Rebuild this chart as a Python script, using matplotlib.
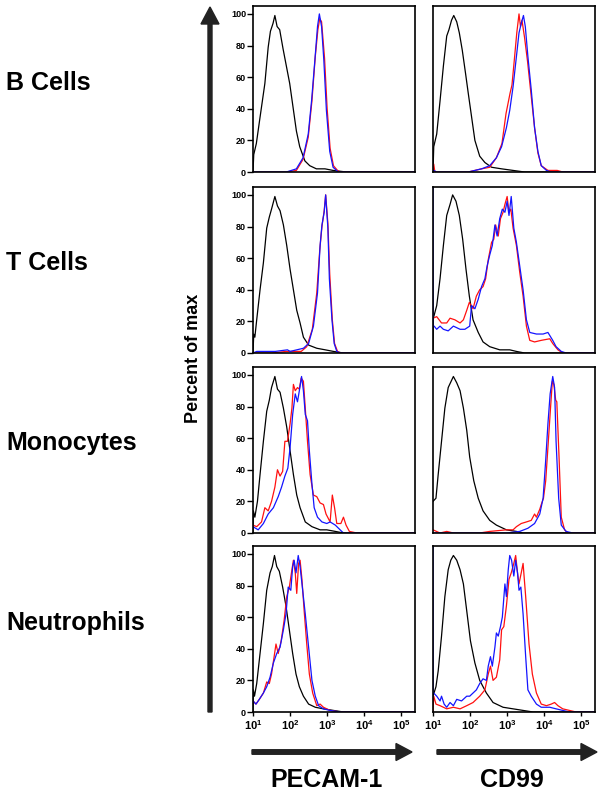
import numpy as np
import matplotlib
matplotlib.use("Agg")
import matplotlib.pyplot as plt
from matplotlib.patches import FancyArrow
from matplotlib.transforms import IdentityTransform

plt.rcParams['font.family'] = ['Liberation Sans', 'DejaVu Sans']
plt.rcParams['mathtext.fontset'] = 'custom'
plt.rcParams['mathtext.rm'] = 'Liberation Sans'
plt.rcParams['mathtext.bf'] = 'Liberation Sans:bold'

# ---------------- data (x = log10 fluorescence, y = percent of max) ----------------
row_labels = ["B Cells", "T Cells", "Monocytes", "Neutrophils"]
col_labels = ["PECAM-1", "CD99"]
y_ticks = [0, 20, 40, 60, 80, 100]
x_ticks = [1, 2, 3, 4, 5]
x_tick_labels = [r"$\mathbf{10^{1}}$", r"$\mathbf{10^{2}}$", r"$\mathbf{10^{3}}$",
                 r"$\mathbf{10^{4}}$", r"$\mathbf{10^{5}}$"]

# B cells, PECAM-1
b_pecam_iso_x = [1.0, 1.02, 1.09, 1.18, 1.32, 1.41, 1.47, 1.54, 1.59, 1.65, 1.72, 1.81, 1.90, 1.99, 2.08, 2.17, 2.26, 2.40, 2.53, 2.71, 2.94, 3.16, 3.52, 5.5]
b_pecam_iso_y = [0, 11, 18, 33, 56, 79, 89, 94, 99, 92, 90, 78, 67, 56, 41, 26, 16, 7, 4, 2, 2, 1, 0, 0]
b_pecam_red_x = [1.0, 1.9, 2.17, 2.35, 2.49, 2.59, 2.68, 2.75, 2.80, 2.85, 2.93, 3.00, 3.08, 3.17, 3.28, 3.35, 5.5]
b_pecam_red_y = [0, 0, 1, 8, 22, 45, 73, 90, 97, 95, 72, 40, 15, 4, 1, 0, 0]
b_pecam_blue_x = [1.0, 1.9, 2.17, 2.35, 2.49, 2.58, 2.67, 2.74, 2.79, 2.85, 2.91, 2.98, 3.07, 3.16, 3.30, 5.5]
b_pecam_blue_y = [0, 0, 2, 9, 24, 45, 71, 92, 100, 92, 71, 39, 13, 3, 0, 0]

# B cells, CD99
b_cd99_iso_x = [1.0, 1.02, 1.10, 1.19, 1.28, 1.37, 1.43, 1.50, 1.56, 1.64, 1.71, 1.79, 1.88, 1.95, 2.04, 2.13, 2.26, 2.40, 2.58, 2.85, 3.16, 3.47, 5.5]
b_cd99_iso_y = [0, 16, 24, 45, 67, 86, 90, 96, 99, 95, 88, 77, 62, 50, 35, 20, 10, 6, 3, 2, 1, 0, 0]
b_cd99_red_x = [1.0, 1.02, 1.05, 1.95, 2.31, 2.53, 2.71, 2.86, 2.97, 3.08, 3.13, 3.19, 3.26, 3.32, 3.36, 3.40, 3.47, 3.55, 3.64, 3.74, 3.83, 3.92, 4.10, 4.35, 4.5, 5.5]
b_cd99_red_y = [0, 5, 0, 0, 2, 3, 9, 18, 37, 50, 55, 70, 88, 100, 92, 96, 85, 70, 50, 28, 12, 4, 1, 1, 0, 0]
b_cd99_blue_x = [1.0, 1.02, 1.10, 1.95, 2.31, 2.53, 2.71, 2.85, 2.98, 3.07, 3.16, 3.25, 3.32, 3.38, 3.44, 3.49, 3.56, 3.65, 3.74, 3.83, 3.92, 4.06, 4.19, 5.5]
b_cd99_blue_y = [1, 1, 0, 0, 2, 4, 9, 16, 28, 39, 54, 73, 88, 94, 99, 92, 73, 52, 28, 13, 4, 1, 0, 0]

# T cells, PECAM-1
t_pecam_iso_x = [1.0, 1.02, 1.05, 1.10, 1.19, 1.28, 1.37, 1.44, 1.50, 1.59, 1.66, 1.73, 1.82, 1.91, 2.00, 2.09, 2.18, 2.27, 2.36, 2.50, 2.72, 2.95, 3.17, 3.44, 5.5]
t_pecam_iso_y = [0, 12, 10, 21, 40, 57, 79, 86, 91, 99, 93, 90, 81, 68, 53, 40, 27, 19, 10, 5, 3, 2, 1, 0, 0]
t_pecam_red_x = [1.0, 1.5, 1.9, 2.0, 2.3, 2.45, 2.6, 2.72, 2.8, 2.86, 2.92, 2.96, 3.02, 3.07, 3.14, 3.2, 3.28, 3.36, 5.5]
t_pecam_red_y = [0, 0, 1, 1, 1, 4, 15, 38, 65, 80, 90, 100, 82, 50, 21, 6, 1, 0, 0]
t_pecam_blue_x = [1.0, 1.1, 1.6, 1.93, 2.0, 2.36, 2.50, 2.63, 2.74, 2.81, 2.86, 2.92, 2.96, 3.02, 3.06, 3.13, 3.19, 3.26, 3.35, 5.5]
t_pecam_blue_y = [0, 1, 1, 2, 1, 3, 6, 17, 38, 68, 81, 89, 100, 79, 47, 21, 6, 1, 0, 0]

# T cells, CD99
t_cd99_iso_x = [1.0, 1.01, 1.10, 1.19, 1.28, 1.37, 1.46, 1.53, 1.62, 1.71, 1.80, 1.89, 1.98, 2.08, 2.22, 2.35, 2.53, 2.80, 3.07, 3.25, 3.47, 5.5]
t_cd99_iso_y = [0, 22, 30, 47, 68, 87, 94, 100, 96, 87, 72, 53, 36, 21, 13, 7, 4, 2, 2, 1, 0, 0]
t_cd99_red_x = [1.0, 1.10, 1.23, 1.37, 1.46, 1.59, 1.73, 1.82, 1.91, 1.98, 2.08, 2.17, 2.26, 2.35, 2.42, 2.49, 2.58, 2.64, 2.69, 2.76, 2.82, 2.89, 2.94, 3.00, 3.05, 3.10, 3.16, 3.25, 3.34, 3.43, 3.52, 3.61, 3.74, 3.92, 4.15, 4.23, 4.37, 4.50, 5.5]
t_cd99_red_y = [22, 23, 19, 19, 22, 21, 19, 21, 27, 32, 28, 36, 40, 42, 47, 59, 70, 72, 81, 74, 85, 89, 94, 99, 89, 91, 79, 68, 51, 36, 17, 8, 7, 8, 9, 6, 2, 0, 0]
t_cd99_blue_x = [1.0, 1.005, 1.03, 1.10, 1.19, 1.28, 1.41, 1.55, 1.73, 1.86, 1.99, 2.04, 2.13, 2.22, 2.31, 2.40, 2.46, 2.53, 2.60, 2.67, 2.73, 2.80, 2.87, 2.94, 3.00, 3.05, 3.11, 3.18, 3.25, 3.34, 3.43, 3.52, 3.61, 3.79, 3.97, 4.10, 4.23, 4.32, 4.46, 4.59, 5.5]
t_cd99_blue_y = [110, 17, 17, 15, 17, 15, 14, 17, 15, 15, 17, 30, 28, 34, 42, 47, 55, 62, 68, 81, 74, 85, 91, 89, 96, 87, 99, 79, 70, 55, 40, 21, 13, 12, 12, 13, 8, 4, 1, 0, 0]

# Monocytes, PECAM-1
m_pecam_iso_x = [1.0, 1.01, 1.05, 1.12, 1.19, 1.28, 1.37, 1.44, 1.50, 1.59, 1.66, 1.73, 1.82, 1.91, 2.00, 2.09, 2.18, 2.27, 2.41, 2.59, 2.81, 2.99, 3.22, 3.44, 5.5]
m_pecam_iso_y = [0, 14, 10, 20, 37, 58, 77, 84, 92, 99, 91, 89, 79, 67, 52, 37, 24, 16, 7, 4, 2, 2, 1, 0, 0]
m_pecam_red_x = [1.0, 1.10, 1.23, 1.32, 1.41, 1.50, 1.59, 1.66, 1.73, 1.80, 1.86, 1.93, 2.00, 2.05, 2.09, 2.14, 2.20, 2.25, 2.30, 2.36, 2.41, 2.47, 2.54, 2.63, 2.72, 2.81, 2.90, 2.97, 3.08, 3.14, 3.20, 3.26, 3.37, 3.44, 3.51, 3.60, 3.80, 5.5]
m_pecam_red_y = [5, 4, 7, 16, 14, 20, 29, 40, 36, 39, 58, 58, 69, 79, 94, 90, 92, 91, 98, 96, 79, 58, 37, 24, 23, 19, 18, 12, 7, 24, 16, 6, 6, 10, 5, 1, 0, 0]
m_pecam_blue_x = [1.0, 1.14, 1.28, 1.41, 1.55, 1.68, 1.77, 1.86, 1.94, 2.00, 2.07, 2.14, 2.20, 2.25, 2.31, 2.36, 2.41, 2.47, 2.52, 2.59, 2.65, 2.74, 2.86, 2.99, 3.08, 3.22, 3.35, 3.44, 5.5]
m_pecam_blue_y = [4, 2, 6, 12, 16, 23, 29, 36, 41, 54, 75, 88, 83, 90, 99, 90, 75, 71, 52, 31, 16, 10, 7, 6, 7, 5, 2, 0, 0]

# Monocytes, CD99
m_cd99_iso_x = [1.0, 1.08, 1.14, 1.23, 1.32, 1.41, 1.47, 1.55, 1.64, 1.73, 1.82, 1.91, 1.99, 2.10, 2.22, 2.35, 2.53, 2.71, 2.98, 3.25, 3.43, 5.5]
m_cd99_iso_y = [20, 22, 37, 58, 79, 92, 95, 99, 95, 90, 79, 65, 48, 33, 22, 14, 8, 5, 2, 1, 0, 0]
m_cd99_red_x = [1.0, 1.19, 1.37, 1.55, 2.26, 2.53, 2.98, 3.16, 3.25, 3.38, 3.52, 3.65, 3.74, 3.79, 3.88, 3.92, 3.98, 4.04, 4.10, 4.17, 4.22, 4.26, 4.31, 4.34, 4.40, 4.46, 4.55, 4.64, 5.5]
m_cd99_red_y = [2, 0, 1, 0, 0, 1, 2, 2, 4, 6, 7, 8, 12, 10, 15, 18, 22, 33, 54, 79, 96, 94, 84, 83, 48, 10, 2, 0, 0]
m_cd99_blue_x = [1.0, 2.98, 3.34, 3.56, 3.74, 3.88, 3.97, 4.04, 4.10, 4.16, 4.23, 4.28, 4.32, 4.39, 4.46, 4.59, 4.77, 5.5]
m_cd99_blue_y = [0, 0, 1, 3, 6, 12, 22, 46, 69, 88, 99, 92, 58, 22, 5, 1, 0, 0]

# Neutrophils, PECAM-1
n_pecam_iso_x = [1.0, 1.01, 1.04, 1.10, 1.19, 1.28, 1.37, 1.46, 1.52, 1.58, 1.64, 1.71, 1.80, 1.89, 1.98, 2.07, 2.16, 2.25, 2.36, 2.50, 2.68, 2.90, 3.17, 3.44, 5.5]
n_pecam_iso_y = [0, 14, 10, 18, 37, 56, 77, 88, 92, 99, 92, 89, 79, 67, 52, 37, 24, 16, 10, 5, 3, 2, 1, 0, 0]
n_pecam_red_x = [1.0, 1.08, 1.17, 1.28, 1.37, 1.44, 1.50, 1.57, 1.62, 1.68, 1.76, 1.84, 1.91, 1.98, 2.05, 2.09, 2.14, 2.18, 2.23, 2.27, 2.32, 2.38, 2.45, 2.52, 2.61, 2.72, 2.81, 2.90, 3.08, 3.35, 5.5]
n_pecam_red_y = [7, 5, 8, 12, 19, 18, 24, 35, 43, 37, 45, 58, 73, 79, 90, 96, 88, 75, 94, 96, 84, 64, 43, 24, 12, 4, 5, 3, 1, 0, 0]
n_pecam_blue_x = [1.0, 1.08, 1.17, 1.28, 1.37, 1.46, 1.55, 1.64, 1.73, 1.82, 1.89, 1.95, 2.02, 2.07, 2.11, 2.16, 2.22, 2.27, 2.34, 2.41, 2.50, 2.59, 2.68, 2.77, 2.90, 3.08, 3.35, 5.5]
n_pecam_blue_y = [7, 5, 8, 12, 16, 22, 31, 37, 41, 52, 62, 79, 77, 92, 96, 88, 99, 92, 77, 62, 41, 20, 10, 4, 2, 1, 0, 0]

# Neutrophils, CD99
n_cd99_iso_x = [1.0, 1.08, 1.14, 1.23, 1.32, 1.41, 1.48, 1.55, 1.64, 1.73, 1.82, 1.91, 2.01, 2.13, 2.26, 2.44, 2.62, 2.89, 3.16, 3.43, 3.70, 5.5]
n_cd99_iso_y = [10, 16, 26, 48, 73, 90, 96, 99, 96, 90, 81, 64, 45, 31, 20, 12, 6, 3, 2, 1, 0, 0]
n_cd99_red_x = [1.0, 1.02, 1.08, 1.19, 1.37, 1.55, 1.73, 1.91, 2.08, 2.26, 2.40, 2.49, 2.55, 2.62, 2.71, 2.80, 2.85, 2.91, 2.98, 3.05, 3.11, 3.18, 3.23, 3.28, 3.32, 3.38, 3.43, 3.50, 3.59, 3.68, 3.79, 3.92, 4.06, 4.19, 4.28, 4.37, 4.50, 4.68, 4.86, 5.5]
n_cd99_red_y = [0, 10, 5, 4, 2, 3, 2, 4, 6, 10, 14, 24, 29, 20, 22, 33, 52, 54, 67, 84, 88, 94, 99, 88, 81, 88, 94, 73, 43, 24, 12, 5, 4, 5, 6, 4, 2, 1, 0, 0]
n_cd99_blue_x = [1.0, 1.005, 1.02, 1.10, 1.19, 1.23, 1.30, 1.37, 1.46, 1.55, 1.64, 1.77, 1.91, 1.99, 2.08, 2.17, 2.26, 2.35, 2.44, 2.49, 2.55, 2.60, 2.67, 2.71, 2.76, 2.82, 2.87, 2.94, 2.98, 3.03, 3.07, 3.12, 3.18, 3.23, 3.28, 3.32, 3.37, 3.43, 3.50, 3.56, 3.65, 3.79, 3.92, 4.15, 4.32, 4.50, 4.68, 5.5]
n_cd99_blue_y = [110, 12, 12, 10, 7, 10, 5, 3, 6, 4, 8, 7, 10, 10, 12, 14, 18, 21, 20, 29, 35, 29, 41, 50, 48, 54, 60, 81, 73, 90, 99, 96, 86, 96, 88, 77, 79, 62, 35, 14, 10, 5, 3, 3, 2, 1, 0, 0]

panels = [
    [(b_pecam_iso_x, b_pecam_iso_y, b_pecam_red_x, b_pecam_red_y, b_pecam_blue_x, b_pecam_blue_y),
     (b_cd99_iso_x, b_cd99_iso_y, b_cd99_red_x, b_cd99_red_y, b_cd99_blue_x, b_cd99_blue_y)],
    [(t_pecam_iso_x, t_pecam_iso_y, t_pecam_red_x, t_pecam_red_y, t_pecam_blue_x, t_pecam_blue_y),
     (t_cd99_iso_x, t_cd99_iso_y, t_cd99_red_x, t_cd99_red_y, t_cd99_blue_x, t_cd99_blue_y)],
    [(m_pecam_iso_x, m_pecam_iso_y, m_pecam_red_x, m_pecam_red_y, m_pecam_blue_x, m_pecam_blue_y),
     (m_cd99_iso_x, m_cd99_iso_y, m_cd99_red_x, m_cd99_red_y, m_cd99_blue_x, m_cd99_blue_y)],
    [(n_pecam_iso_x, n_pecam_iso_y, n_pecam_red_x, n_pecam_red_y, n_pecam_blue_x, n_pecam_blue_y),
     (n_cd99_iso_x, n_cd99_iso_y, n_cd99_red_x, n_cd99_red_y, n_cd99_blue_x, n_cd99_blue_y)],
]

# ---------------- layout ----------------
W, H = 602, 793
fig = plt.figure(figsize=(W / 100, H / 100), dpi=100)

col_left_px = [253, 433]
col_w_px = 162
row_top_px = [6, 187, 367, 546]
row_h_px = 166

for r in range(4):
    for c in range(2):
        l = col_left_px[c] / W
        b = 1 - (row_top_px[r] + row_h_px) / H
        ax = fig.add_axes([l, b, col_w_px / W, row_h_px / H])
        ix, iy, rx, ry, bx, by = panels[r][c]
        ax.plot(np.power(10.0, ix), iy, color='black', lw=0.9)
        ax.plot(np.power(10.0, rx), ry, color='#ff1010', lw=0.9)
        ax.plot(np.power(10.0, bx), by, color='#1414ff', lw=0.9)
        ax.set_xscale('log')
        ax.set_xlim(10, 10 ** 5.37)
        ax.set_ylim(0, 105)
        for s in ax.spines.values():
            s.set_linewidth(1.2)
        ax.minorticks_off()
        if c == 0:
            ax.set_yticks(y_ticks)
            ax.set_yticklabels([str(v) for v in y_ticks], fontsize=6.5, fontweight='bold')
            ax.tick_params(axis='y', length=4, width=1.0, pad=1)
        else:
            ax.set_yticks([])
        if r == 3:
            ax.set_xticks([10.0 ** v for v in x_ticks])
            ax.set_xticklabels(x_tick_labels, fontsize=8)
            ax.tick_params(axis='x', length=3, width=1.0, pad=1.5)
        else:
            ax.set_xticks([])

# row labels
row_baselines = [90, 270, 450, 630]
for lab, yb in zip(row_labels, row_baselines):
    fig.text(6 / W, 1 - yb / H, lab, fontsize=18, fontweight='bold', ha='left', va='baseline')

# y label
fig.text(193 / W, 1 - 358 / H, "Percent of max", fontsize=13, fontweight='bold',
         rotation=90, ha='center', va='center')

# arrows (pixel coordinates)
arrow_col = '#222222'
fig.add_artist(FancyArrow(210, H - 712, 0, 705, width=4, head_width=18, head_length=17,
                          length_includes_head=True, color=arrow_col, transform=IdentityTransform()))
for x0, x1 in [(252, 412), (437, 597)]:
    fig.add_artist(FancyArrow(x0, H - 752, x1 - x0, 0, width=4.5, head_width=17, head_length=16,
                              length_includes_head=True, color=arrow_col, transform=IdentityTransform()))

# column labels
for lab, xc in zip(col_labels, [327, 512]):
    fig.text(xc / W, 1 - 787 / H, lab, fontsize=18, fontweight='bold', ha='center', va='baseline')

fig.savefig("out.png", dpi=100)
